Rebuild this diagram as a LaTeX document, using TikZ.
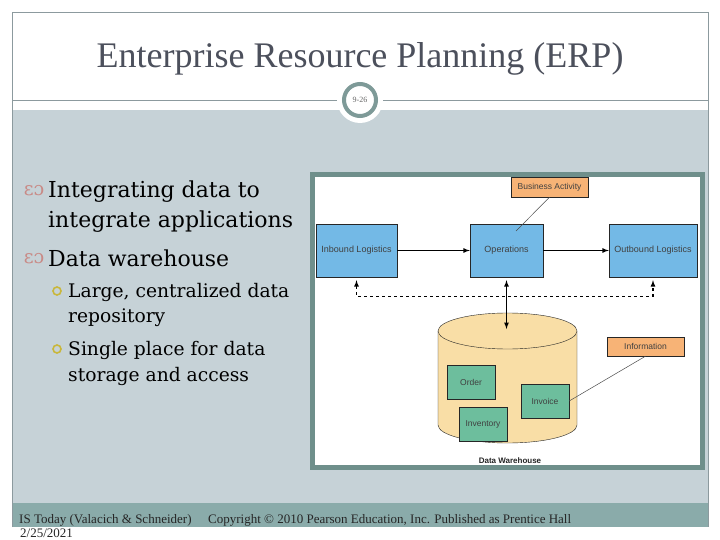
\documentclass[tikz,border=0pt]{standalone}
\usepackage{fontspec}
\setmainfont{Liberation Serif}
\newfontfamily\bodyfont{DejaVu Serif}
\newfontfamily\figfont{Liberation Sans}
\usepackage{tikz}
\usepackage{xcolor}
\usetikzlibrary{positioning,shapes,arrows}

\definecolor{framegray}{HTML}{8C9A9E}
\definecolor{bandgray}{HTML}{C6D2D7}
\definecolor{footteal}{HTML}{8AABAA}
\definecolor{ringteal}{HTML}{7E9A98}
\definecolor{picframe}{HTML}{6F8F8B}
\definecolor{boxblue}{HTML}{73B9E6}
\definecolor{boxorange}{HTML}{F7B376}
\definecolor{tankfill}{HTML}{F9DEA6}
\definecolor{boxgreen}{HTML}{6DBE9D}
\definecolor{titlegray}{HTML}{4C505C}
\definecolor{swirlred}{HTML}{C98A86}
\definecolor{ringolive}{HTML}{C9B73A}

\begin{document}
\begin{tikzpicture}[x=1pt,y=-1pt,>=latex]
\tikzstyle{every node}+=[inner sep=0pt]
\tikzstyle{stage}=[draw=black!85,fill=boxblue,minimum width=81pt,minimum height=53pt,text=black!75,font=\figfont\fontsize{9}{10}\selectfont]
\tikzstyle{note}=[draw=black!85,fill=boxorange,minimum width=77pt,minimum height=20pt,text=black!75,font=\figfont\fontsize{8.5}{10}\selectfont]
\tikzstyle{record}=[draw=black!85,fill=boxgreen,minimum width=48pt,minimum height=34pt,text=black!75,font=\figfont\fontsize{8.5}{10}\selectfont]
\tikzstyle{flow}=[->,line width=1.2pt]
\tikzstyle{leader}=[black!70,line width=0.5pt]
\tikzstyle{mainitem}=[anchor=base west,font=\bodyfont\fontsize{22}{26}\selectfont]
\tikzstyle{subitem}=[anchor=base west,font=\bodyfont\fontsize{18.7}{22}\selectfont]
\tikzstyle{swirl}=[text=swirlred,font=\bodyfont\fontsize{19}{20}\selectfont]
\tikzstyle{subdot}=[circle,draw=ringolive,line width=1.6pt,minimum size=8pt]
\tikzstyle{foot}=[anchor=base west,text=black!85,font=\fontsize{13}{14}\selectfont]
\useasboundingbox (0,0) rectangle (720,540);
\fill[white] (0,0) rectangle (720,540);

% slide background
\fill[bandgray] (12,110) rectangle (708,503);
\fill[footteal] (12,503) rectangle (708,527);
\draw[framegray] (12,527) -- (12,12) -- (708,12) -- (708,527);
\draw[framegray] (12,100) -- (708,100);
\fill[white] (360,100) circle (23pt);
\draw[ringteal,line width=4pt] (360,100) circle (16pt);
\node[text=black!60,font=\fontsize{8}{9}\selectfont] (pageno) at (360,100) {9-26};
\node[anchor=base,text=titlegray,font=\fontsize{36}{40}\selectfont] (title) at (360,68) {Enterprise Resource Planning (ERP)};

% bullets
\node[swirl] (swirl1) at (34,191) {ɛɔ};
\node[mainitem] (item1) at (48,197) {Integrating data to};
\node[mainitem] (item1b) at (48,228) {integrate applications};
\node[swirl] (swirl2) at (34,259) {ɛɔ};
\node[mainitem] (item2) at (48,266) {Data warehouse};
\node[subdot] (dot1) at (57,291) {};
\node[subitem] (sub1) at (68,297) {Large, centralized data};
\node[subitem] (sub1b) at (68,322) {repository};
\node[subdot] (dot2) at (57,349) {};
\node[subitem] (sub2) at (68,355) {Single place for data};
\node[subitem] (sub2b) at (68,381) {storage and access};

% figure
\draw[picframe,line width=5pt,fill=white] (312.5,174.5) rectangle (702,467.5);
\node[stage] (inbound) at (356.5,250.5) {Inbound Logistics};
\node[stage,minimum width=73pt] (ops) at (506.5,250.5) {Operations};
\node[stage,minimum width=88pt] (outbound) at (653,250.5) {Outbound Logistics};
\node[note] (activity) at (549.5,187) {Business Activity};
\coordinate (opsmark) at (516,231);
\draw[leader] (activity.south) -- (opsmark);
\draw[flow] (inbound) -- (ops);
\draw[flow] (ops) -- (outbound);
\draw[<->,dashed,line width=1.2pt,shorten <=3pt,shorten >=3pt] (inbound.south) -- ++(0,19) -| (outbound.south);

% warehouse
\draw[black!85,fill=tankfill] (438,331) -- (438,425) arc[start angle=180,end angle=360,x radius=69.5pt,y radius=18pt] -- (577,331);
\draw[black!85,fill=tankfill] (507.5,331) ellipse (69.5pt and 18pt);
\coordinate (tanktop) at (506.5,329);
\draw[flow,<->,shorten <=3pt] (ops.south) -- (tanktop);
\node[record] (order) at (471,382) {Order};
\node[record] (inventory) at (483,424) {Inventory};
\node[record] (invoice) at (545,401) {Invoice};
\node[note,minimum height=19pt] (info) at (645.5,346.5) {Information};
\draw[leader] (info.south) -- (invoice.east);
\node[font=\figfont\bfseries\fontsize{8}{9}\selectfont,text=black!85] (dwlabel) at (510,461) {Data Warehouse};

% footer
\node[foot] (credit) at (19,523) {IS Today (Valacich \& Schneider)};
\node[foot] (copyright) at (208,523) {Copyright © 2010 Pearson Education, Inc. Published as Prentice Hall};
\node[foot] (date) at (20,537) {2/25/2021};
\end{tikzpicture}
\end{document}
